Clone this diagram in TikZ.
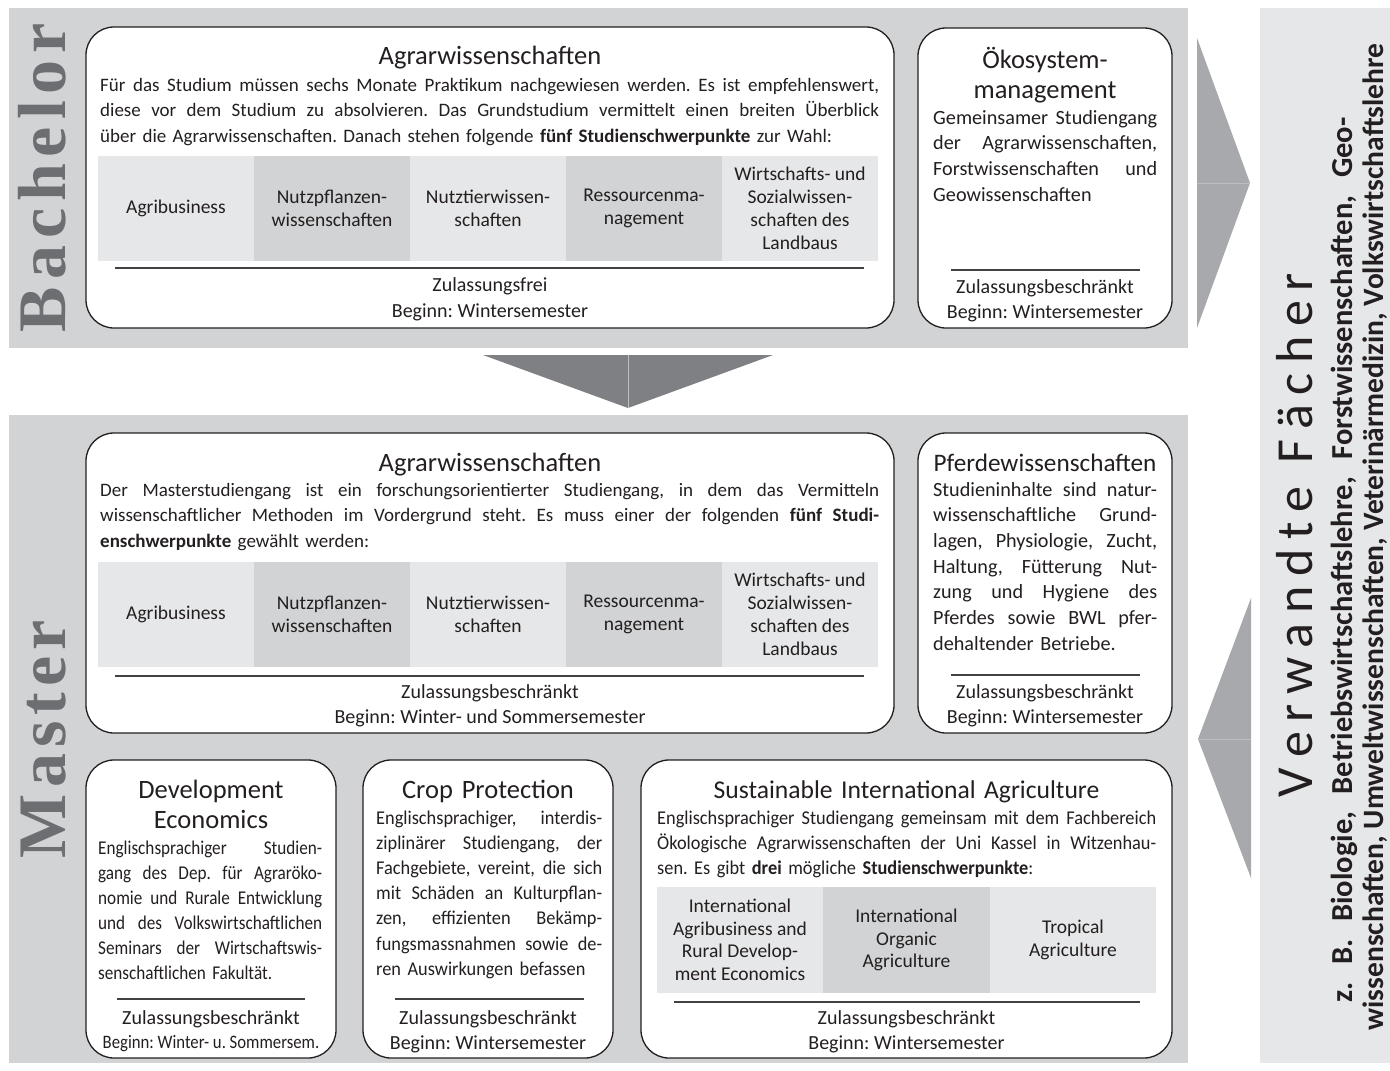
\documentclass[tikz,border=0pt]{standalone}
\usepackage{fontspec}
\setmainfont{Carlito}
\newfontfamily\condfont{Carlito}[FakeStretch=0.88]
\newfontfamily\condbfont{Carlito}[FakeStretch=0.94]
\newfontfamily\labelfont{Liberation Serif}
\definecolor{bandgray}{HTML}{D1D3D4}
\definecolor{cellA}{HTML}{E6E7E8}
\definecolor{cellB}{HTML}{D1D3D4}
\definecolor{verwgray}{HTML}{E6E7E8}
\definecolor{arrowgray}{HTML}{A7A9AC}
\definecolor{downgray}{HTML}{7F8083}
\definecolor{seamgray}{HTML}{BCBEC0}
\definecolor{labelgray}{HTML}{6D6E71}
\definecolor{ink}{HTML}{231F20}
\newcommand\fBody{\fontsize{19}{25.5}\selectfont}
\newcommand\fNarrow{\fontsize{20.2}{25.7}\selectfont}
\newcommand\fCell{\fontsize{19.5}{23}\selectfont}
\newcommand\fSCell{\fontsize{19.5}{22.5}\selectfont}
\newcommand\fTitle{\fontsize{26.5}{30}\selectfont}
\newcommand\fCond{\condfont\fontsize{19.5}{25}\selectfont}
\newcommand\fCondB{\condbfont\fontsize{19.5}{25.2}\selectfont}
\newcommand\fFoot{\fontsize{20}{25}\selectfont}
% justified line of given width
\newcommand\J[2]{\makebox[#1][s]{\spaceskip=0.22em plus 1fil minus 0.08em\relax #2}\\}
\newcommand\JJ[2]{\makebox[#1][s]{\spaceskip=0.22em plus 1fil minus 0.08em\relax #2}}
\begin{document}
\frenchspacing
\begin{tikzpicture}[x=1pt,y=-1pt,
  band/.style={fill=bandgray,draw=none},
  card/.style={draw=ink,line width=1.3pt,fill=white,rounded corners=28pt,inner sep=0pt},
  ttl/.style={anchor=base,inner sep=0pt,text width=540pt,font=\fTitle,text=ink,align=center},
  txt/.style={anchor=base west,inner sep=0pt,text width=#1,align=left,font=\fBody,text=ink},
  foot/.style={anchor=base,inner sep=0pt,font=\fFoot,text=ink},
  cell/.style={draw=none,inner sep=0pt,align=center,font=\fCell,text=ink},
  rule/.style={draw=ink!85,line width=1.2pt},
  seam/.style={draw=seamgray,line width=0.8pt},
  lbl/.style={rotate=90,anchor=base,inner sep=0pt,font=\labelfont\bfseries\fontsize{68}{68}\selectfont,text=labelgray},
  vlbl/.style={rotate=90,anchor=base,inner sep=0pt,font=\fontsize{52}{52}\selectfont,text=ink},
  vsub/.style={rotate=90,anchor=base,inner sep=0pt,font=\bfseries\fontsize{30.5}{31}\selectfont,text=ink}
]
\useasboundingbox (0,0) rectangle (1390,1071);
\fill[white] (0,0) rectangle (1390,1071);

% bands
\fill[band] (9,8) rectangle (1188,348);
\fill[band] (9,415) rectangle (1188,1063);
\fill[verwgray] (1260,8) rectangle (1390,1063);

% arrows
\coordinate (ra1) at (1197,38); \coordinate (ra2) at (1250,183); \coordinate (ra3) at (1197,328); \coordinate (ram) at (1197,183);
\fill[arrowgray] (ra1) -- (ra2) -- (ra3) -- cycle;
\draw[seam] (ram) -- (ra2);
\coordinate (da1) at (483,355); \coordinate (da2) at (773,355); \coordinate (da3) at (628,408); \coordinate (dam) at (628,355);
\fill[downgray] (da1) -- (da2) -- (da3) -- cycle;
\draw[seam] (dam) -- (da3);
\coordinate (la1) at (1251,598); \coordinate (la2) at (1198,739); \coordinate (la3) at (1251,878); \coordinate (lam) at (1251,739);
\fill[arrowgray] (la1) -- (la2) -- (la3) -- cycle;
\draw[seam] (la2) -- (lam);

% side labels
\node[lbl] (blabel) at (65,177.5) {\makebox[309pt]{B\hfill a\hfill c\hfill h\hfill e\hfill l\hfill o\hfill r}};
\node[lbl] (mlabel) at (65,739) {\makebox[238pt]{M\hfill a\hfill s\hfill t\hfill e\hfill r}};
\node[vlbl] (vtitle) at (1312,535) {\makebox[524pt]{V\hfill e\hfill r\hfill w\hfill a\hfill n\hfill d\hfill t\hfill e\hskip 0pt plus 2.5fill F\hfill ä\hfill c\hfill h\hfill e\hfill r}};
\node[vsub] (vline2) at (1352,560) {\JJ{885pt}{z. B. Biologie, Betriebswirtschaftslehre, Forstwissenschaften, Geo-}};
\node[vsub,font=\bfseries\fontsize{29.5}{31}\selectfont] (vline3) at (1383,537) {wissenschaften, Umweltwissenschaften, Veterinärmedizin, Volkswirtschaftslehre};

% ---------- Bachelor Agrarwissenschaften
\node[card,minimum width=808pt,minimum height=301pt] (bagrar) at (490,177.5) {};
\node[ttl] (bagrarT) at (490,64) {Agrarwissenschaften};
\node[txt=779pt] (bagrarB) at (100,91) {%
\J{779pt}{Für das Studium müssen sechs Monate Praktikum nachgewiesen werden. Es ist empfehlenswert,}
\J{779pt}{diese vor dem Studium zu absolvieren. Das Grundstudium vermittelt einen breiten Überblick}
über die Agrarwissenschaften. Danach stehen folgende \textbf{fünf Studienschwerpunkte} zur Wahl:};
\node[cell,fill=cellA,minimum width=156pt,minimum height=105pt] (bc1) at (176,208.5) {Agribusiness};
\node[cell,fill=cellB,minimum width=156pt,minimum height=105pt] (bc2) at (332,208.5) {Nutzpflanzen-\\wissenschaften};
\node[cell,fill=cellA,minimum width=156pt,minimum height=105pt] (bc3) at (488,208.5) {Nutztierwissen-\\schaften};
\node[cell,fill=cellB,minimum width=156pt,minimum height=105pt] (bc4) at (644,208.5) {Ressourcenma-\\nagement};
\node[cell,fill=cellA,minimum width=156pt,minimum height=105pt] (bc5) at (800,208.5) {Wirtschafts- und\\Sozialwissen-\\schaften des\\Landbaus};
\draw[rule] (115,268) -- (864,268);
\node[foot] (bagrarF1) at (490,291) {Zulassungsfrei};
\node[foot] (bagrarF2) at (490,317) {Beginn: Wintersemester};

% ---------- Oekosystemmanagement
\node[card,minimum width=254pt,minimum height=300pt] (boeko) at (1045,178) {};
\node[ttl] (boekoT) at (1045,68) {Ökosystem-\\management};
\node[txt=224pt,font=\fNarrow] (boekoB) at (933,124) {%
\J{224pt}{Gemeinsamer Studiengang}
\J{224pt}{der Agrarwissenschaften,}
\J{224pt}{Forstwissenschaften und}
Geowissenschaften};
\draw[rule] (951,270) -- (1140,270);
\node[foot] (boekoF1) at (1045,293) {Zulassungsbeschränkt};
\node[foot] (boekoF2) at (1045,318) {Beginn: Wintersemester};

% ---------- Master Agrarwissenschaften
\node[card,minimum width=808pt,minimum height=300pt] (magrar) at (490,583) {};
\node[ttl] (magrarT) at (490,471) {Agrarwissenschaften};
\node[txt=779pt] (magrarB) at (100,496) {%
\J{779pt}{Der Masterstudiengang ist ein forschungsorientierter Studiengang, in dem das Vermitteln}
\J{779pt}{wissenschaftlicher Methoden im Vordergrund steht. Es muss einer der folgenden \textbf{fünf Studi-}}
\textbf{enschwerpunkte} gewählt werden:};
\node[cell,fill=cellA,minimum width=156pt,minimum height=105pt] (mc1) at (176,614.5) {Agribusiness};
\node[cell,fill=cellB,minimum width=156pt,minimum height=105pt] (mc2) at (332,614.5) {Nutzpflanzen-\\wissenschaften};
\node[cell,fill=cellA,minimum width=156pt,minimum height=105pt] (mc3) at (488,614.5) {Nutztierwissen-\\schaften};
\node[cell,fill=cellB,minimum width=156pt,minimum height=105pt] (mc4) at (644,614.5) {Ressourcenma-\\nagement};
\node[cell,fill=cellA,minimum width=156pt,minimum height=105pt] (mc5) at (800,614.5) {Wirtschafts- und\\Sozialwissen-\\schaften des\\Landbaus};
\draw[rule] (115,676) -- (864,676);
\node[foot] (magrarF1) at (490,698) {Zulassungsbeschränkt};
\node[foot] (magrarF2) at (490,723) {Beginn: Winter- und Sommersemester};

% ---------- Pferdewissenschaften
\node[card,minimum width=254pt,minimum height=300pt] (mpferd) at (1045,583) {};
\node[ttl,font=\fontsize{25.2}{30}\selectfont] (mpferdT) at (1045,471) {Pferdewissenschaften};
\node[txt=224pt,font=\fNarrow] (mpferdB) at (933,496) {%
\J{224pt}{Studieninhalte sind natur-}
\J{224pt}{wissenschaftliche Grund-}
\J{224pt}{lagen, Physiologie, Zucht,}
\J{224pt}{Haltung, Fütterung Nut-}
\J{224pt}{zung und Hygiene des}
\J{224pt}{Pferdes sowie BWL pfer-}
dehaltender Betriebe.};
\draw[rule] (951,675) -- (1140,675);
\node[foot] (mpferdF1) at (1045,698) {Zulassungsbeschränkt};
\node[foot] (mpferdF2) at (1045,723) {Beginn: Wintersemester};

% ---------- Development Economics
\node[card,minimum width=250pt,minimum height=298pt] (mdev) at (211,909) {};
\node[ttl] (mdevT) at (211,798) {Development\\Economics};
\node[txt=224pt,font=\fCond] (mdevB) at (98,854) {%
\J{224pt}{Englischsprachiger Studien-}
\J{224pt}{gang des Dep. für Agraröko-}
\J{224pt}{nomie und Rurale Entwicklung}
\J{224pt}{und des Volkswirtschaftlichen}
\J{224pt}{Seminars der Wirtschaftswis-}
senschaftlichen Fakultät.};
\draw[rule] (117,999) -- (305,999);
\node[foot] (mdevF1) at (211,1024) {Zulassungsbeschränkt};
\node[foot,font=\condfont\fontsize{19}{22}\selectfont] (mdevF2) at (211,1048) {Beginn: Winter- u. Sommersem.};

% ---------- Crop Protection
\node[card,minimum width=250pt,minimum height=298pt] (mcrop) at (488,909) {};
\node[ttl] (mcropT) at (488,798) {Crop Protection};
\node[txt=226pt,font=\fCondB] (mcropB) at (376,824) {%
\J{226pt}{Englischsprachiger, interdis-}
\J{226pt}{ziplinärer Studiengang, der}
\J{226pt}{Fachgebiete, vereint, die sich}
\J{226pt}{mit Schäden an Kulturpflan-}
\J{226pt}{zen, effizienten Bekämp-}
\J{226pt}{fungsmassnahmen sowie de-}
ren Auswirkungen befassen};
\draw[rule] (395,999) -- (584,999);
\node[foot] (mcropF1) at (488,1024) {Zulassungsbeschränkt};
\node[foot] (mcropF2) at (488,1049) {Beginn: Wintersemester};

% ---------- Sustainable International Agriculture
\node[card,minimum width=531pt,minimum height=298pt] (msia) at (906.5,909) {};
\node[ttl,font=\fontsize{25.6}{30}\selectfont] (msiaT) at (906.5,798) {Sustainable International Agriculture};
\node[txt=499pt,font=\fCondB] (msiaB) at (657,824) {%
\J{499pt}{Englischsprachiger Studiengang gemeinsam mit dem Fachbereich}
\J{499pt}{Ökologische Agrarwissenschaften der Uni Kassel in Witzenhau-}
sen. Es gibt \textbf{drei} mögliche \textbf{Studienschwerpunkte}:};
\node[cell,font=\fSCell,fill=cellA,minimum width=166pt,minimum height=106pt] (sc1) at (740,940) {International\\Agribusiness and\\Rural Develop-\\ment Economics};
\node[cell,font=\fSCell,fill=cellB,minimum width=167pt,minimum height=106pt] (sc2) at (906.5,940) {International\\Organic\\Agriculture};
\node[cell,font=\fSCell,fill=cellA,minimum width=166pt,minimum height=106pt] (sc3) at (1073,940) {Tropical\\Agriculture};
\draw[rule] (674,1002) -- (1140,1002);
\node[foot] (msiaF1) at (906.5,1024) {Zulassungsbeschränkt};
\node[foot] (msiaF2) at (906.5,1049) {Beginn: Wintersemester};
\end{tikzpicture}
\end{document}
